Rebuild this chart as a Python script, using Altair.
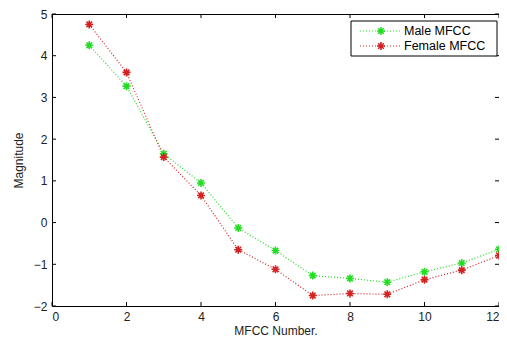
import altair as alt
import pandas as pd

mfcc = list(range(1, 13))
male = [4.25, 3.27, 1.65, 0.95, -0.13, -0.67, -1.27, -1.34, -1.43, -1.18, -0.97, -0.64]
female = [4.75, 3.60, 1.57, 0.65, -0.65, -1.12, -1.75, -1.70, -1.72, -1.37, -1.14, -0.79]
series = ["Male MFCC", "Female MFCC"]
colors = ["#22dd22", "#d42222"]
x_ticks = [0, 2, 4, 6, 8, 10, 12]
y_ticks = [-2, -1, 0, 1, 2, 3, 4, 5]

W, H = 447, 292
FONT = "Liberation Sans"

df = pd.DataFrame(
    {"n": mfcc * 2, "v": male + female, "s": [series[0]] * 12 + [series[1]] * 12}
)
xt = pd.DataFrame({"n": x_ticks})
yt = pd.DataFrame({"v": y_ticks})
leg = pd.DataFrame({"s": series})

star = "M-1,0L1,0M0,-1L0,1M-0.7,-0.7L0.7,0.7M-0.7,0.7L0.7,-0.7"
color = alt.Color("s:N", scale=alt.Scale(domain=series, range=colors), legend=None)

xaxis = alt.Axis(values=x_ticks, title="MFCC Number.", grid=False, ticks=False,
                 domain=False, labelPadding=5, titlePadding=3, titleFontSize=12)
yaxis = alt.Axis(values=y_ticks, title="Magnitude", grid=False, ticks=False,
                 domain=False, labelPadding=5, titlePadding=8)
xsc = alt.Scale(domain=[0, 12], nice=False)
ysc = alt.Scale(domain=[-2, 5], nice=False)
xs = alt.X("n:Q", scale=xsc, axis=xaxis)
ys = alt.Y("v:Q", scale=ysc, axis=yaxis)

base = alt.Chart(df)
lines = base.mark_line(strokeDash=[1, 2], strokeWidth=1.2).encode(x=xs, y=ys, color=color)
pts = base.mark_point(shape=star, filled=False, size=64, strokeWidth=1.6, opacity=1).encode(
    x=xs, y=ys, color=color
)

tb = alt.Chart(xt).mark_rule(color="black").encode(x=xs, y=alt.value(H), y2=alt.value(H - 4))
tt = alt.Chart(xt).mark_rule(color="black").encode(x=xs, y=alt.value(0), y2=alt.value(4))
tl = alt.Chart(yt).mark_rule(color="black").encode(y=ys, x=alt.value(0), x2=alt.value(4))
tr = alt.Chart(yt).mark_rule(color="black").encode(y=ys, x=alt.value(W), x2=alt.value(W - 4))

main = alt.layer(lines, pts, tb, tt, tl, tr)

ly = alt.Y("s:N", scale=alt.Scale(type="point", domain=series, range=[17, 32], padding=0), axis=None)
lbox = alt.Chart(leg).mark_rect(fill="white", stroke="black", strokeWidth=1).encode(
    x=alt.value(299), x2=alt.value(445), y=alt.value(7), y2=alt.value(42)
).transform_filter(alt.datum.s == series[0])
lline = alt.Chart(leg).mark_rule(strokeDash=[1, 2], strokeWidth=1.2).encode(
    x=alt.value(308), x2=alt.value(350), y=ly, color=color
)
lpt = alt.Chart(leg).mark_point(shape=star, filled=False, size=64, strokeWidth=1.6, opacity=1).encode(
    x=alt.value(329), y=ly, color=color
)
ltxt = alt.Chart(leg).mark_text(align="left", baseline="middle", font=FONT, fontSize=12.5, color="black").encode(
    x=alt.value(352), y=ly, text="s:N"
)
legend = alt.layer(lbox, lline, lpt, ltxt)

chart = (
    alt.layer(main, legend)
    .resolve_scale(y="independent", x="independent")
    .properties(
        width=W,
        height=H,
        autosize=alt.AutoSizeParams(type="none"),
        padding={"left": 44, "top": 6, "right": 0, "bottom": 30},
    )
    .configure_view(stroke="black", strokeWidth=1)
    .configure_axis(labelFont=FONT, titleFont=FONT, labelFontSize=12, titleFontSize=12,
                    labelColor="#222", titleColor="#222", titleFontWeight="normal")
)

chart.save("out.html", embed_options={"renderer": "svg", "actions": False})
